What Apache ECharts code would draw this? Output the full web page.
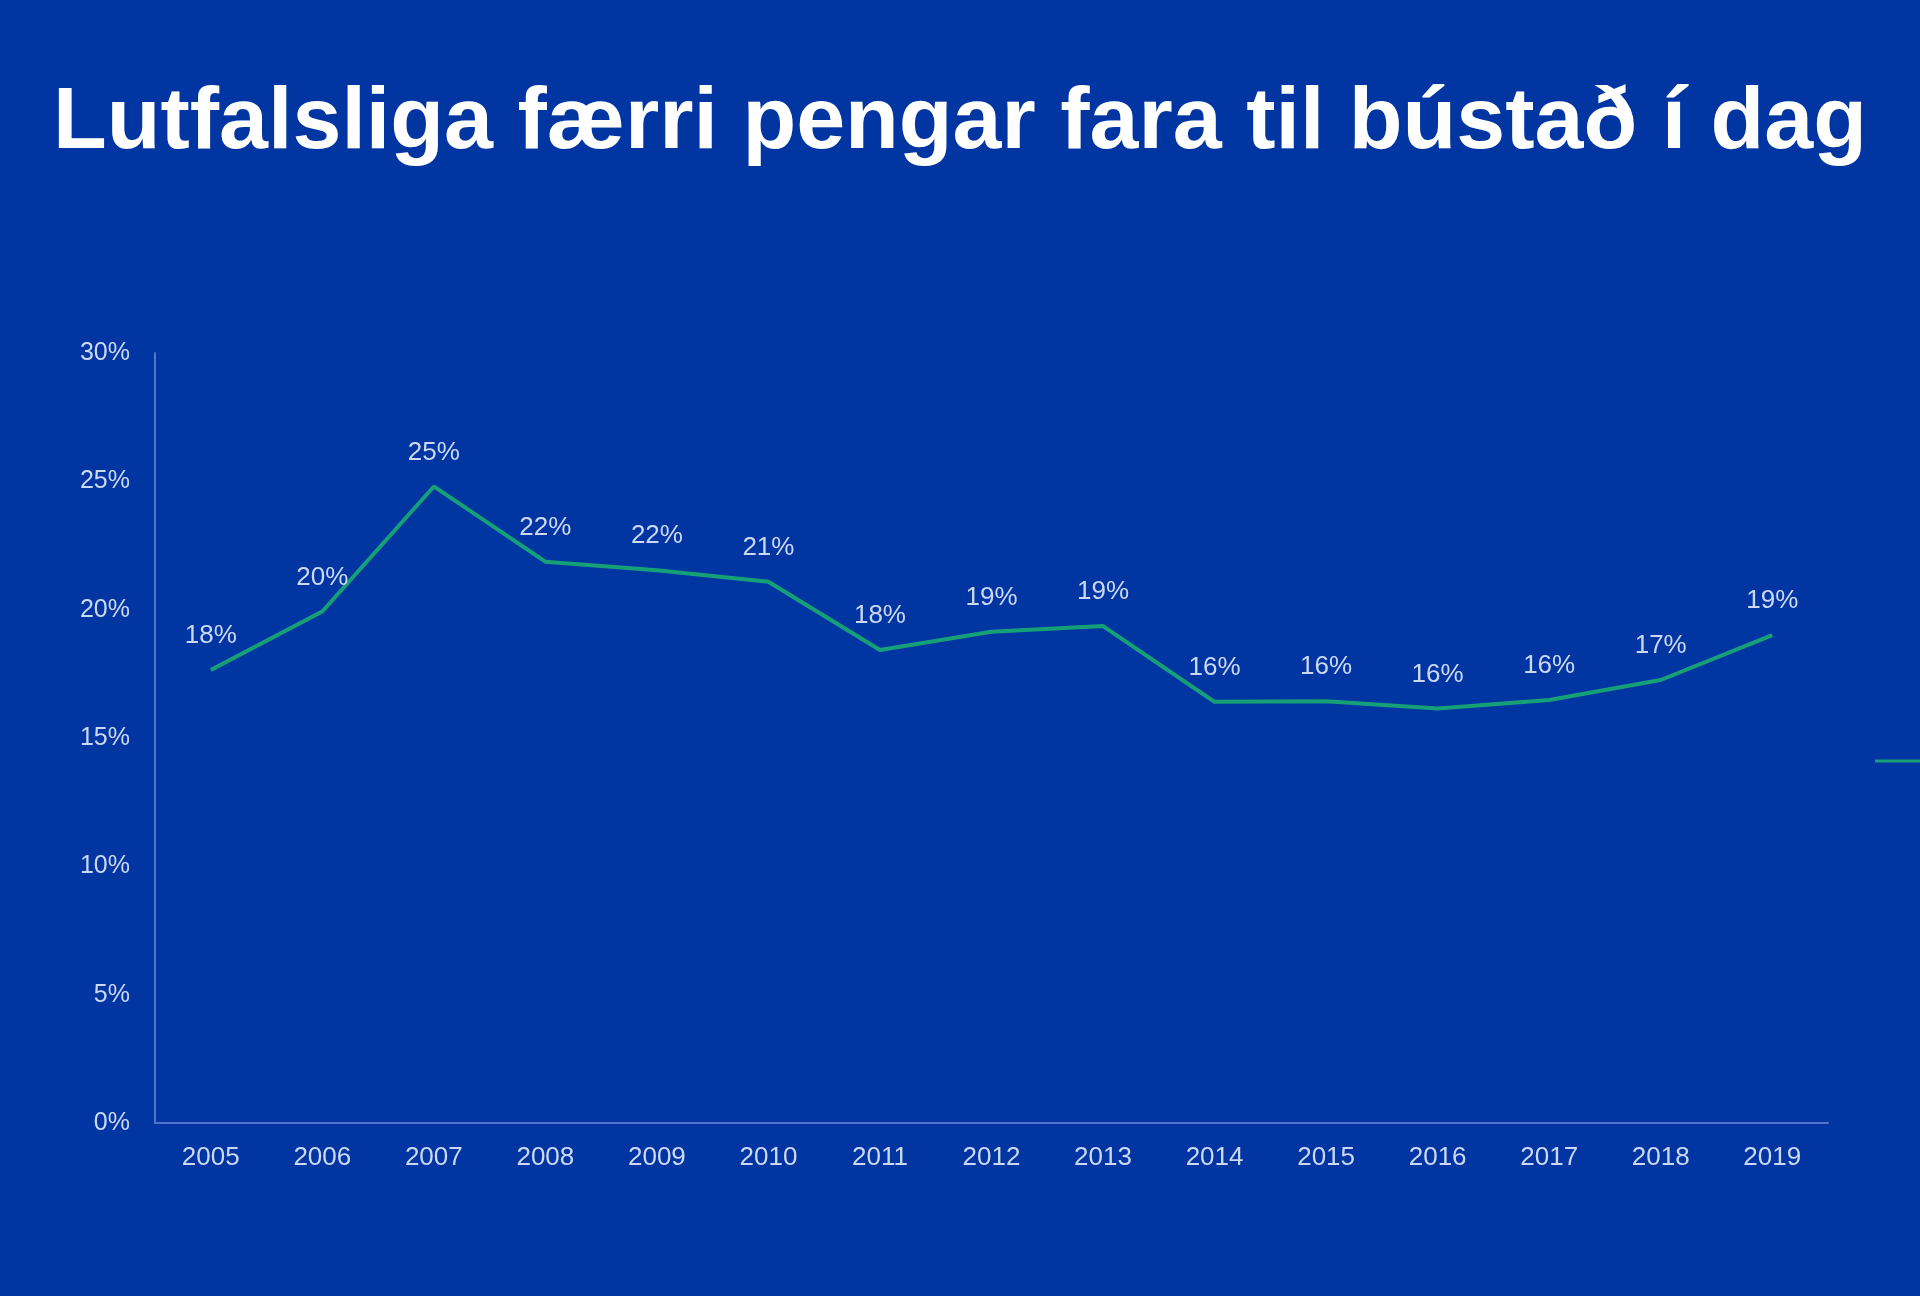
<!DOCTYPE html>
<html lang="is">
<head>
  <meta charset="UTF-8">
  <title>Lutfalsliga færri pengar fara til bústað í dag</title>
  <script src="https://cdn.jsdelivr.net/npm/echarts@6/dist/echarts.min.js"></script>
  <style>
    html, body { margin: 0; padding: 0; background: #0135a2; }
    #chart { width: 1920px; height: 1296px; }
  </style>
</head>
<body>
  <div id="chart"></div>
  <script type="text/javascript">
    // ár á x-ás
    var years = ['2005', '2006', '2007', '2008', '2009', '2010', '2011', '2012', '2013', '2014', '2015', '2016', '2017', '2018', '2019'];
    // hlutfall í prósentum, lesið af myndinni
    var shares = [17.65, 19.93, 24.8, 21.87, 21.54, 21.09, 18.43, 19.14, 19.36, 16.41, 16.43, 16.15, 16.48, 17.26, 19.01];
    var yTicks = [0, 5, 10, 15, 20, 25, 30];

    var labelColor = '#ccd8f5';
    var myChart = echarts.init(document.getElementById('chart'));
    var option = {
      backgroundColor: '#0135a2',
      textStyle: { fontFamily: '"Liberation Sans", Arial, sans-serif' },
      title: {
        text: 'Lutfalsliga færri pengar fara til bústað í dag',
        left: 'center',
        top: 75,
        textStyle: {
          color: '#ffffff',
          fontSize: 88,
          fontWeight: 'bold',
          fontFamily: '"Liberation Sans", Arial, sans-serif'
        }
      },
      legend: {
        left: 1870,
        top: 745,
        itemWidth: 50,
        itemHeight: 24,
        data: [{ name: 'Hlutfall', icon: 'path://M0,10.5 L50,10.5 L50,13.5 L0,13.5 Z' }],
        textStyle: { color: labelColor, fontSize: 22 }
      },
      grid: {
        left: 155,
        right: 92,
        top: 353,
        bottom: 173,
        containLabel: false
      },
      xAxis: {
        type: 'category',
        data: years,
        boundaryGap: true,
        axisTick: { show: false },
        axisLine: { lineStyle: { color: '#5273cc', width: 2 } },
        axisLabel: { color: labelColor, fontSize: 26, margin: 22 }
      },
      yAxis: {
        type: 'value',
        min: yTicks[0],
        max: yTicks[yTicks.length - 1],
        interval: 5,
        splitLine: { show: false },
        axisTick: { show: false },
        axisLine: { show: true, lineStyle: { color: '#5273cc', width: 2 } },
        axisLabel: { color: labelColor, fontSize: 25, margin: 25, formatter: '{value}%' }
      },
      series: [
        {
          name: 'Hlutfall',
          type: 'line',
          data: shares,
          symbol: 'circle',
          symbolSize: 0,
          lineStyle: { color: '#16a077', width: 4 },
          itemStyle: { color: '#16a077' },
          label: {
            show: true,
            position: 'top',
            distance: 21,
            color: labelColor,
            fontSize: 26,
            formatter: function (p) { return Math.round(p.value) + '%'; }
          }
        }
      ]
    };
    option && myChart.setOption(option);
  </script>
</body>
</html>
